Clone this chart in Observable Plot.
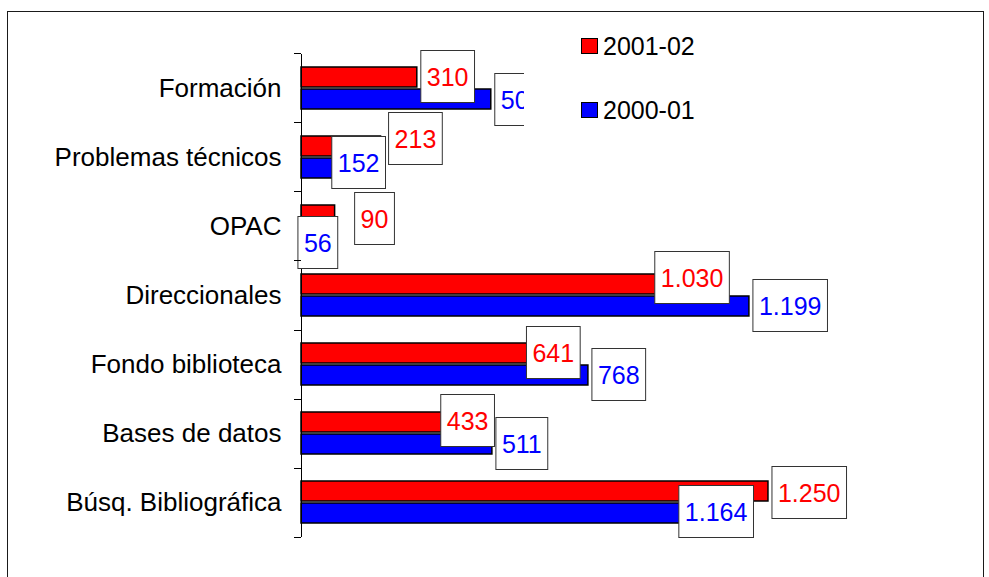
<!DOCTYPE html>
<html><head><meta charset="utf-8">
<script src="https://cdn.jsdelivr.net/npm/d3@7"></script>
<script src="https://cdn.jsdelivr.net/npm/@observablehq/plot@0.6"></script>
<style>
html,body{margin:0;padding:0;background:#fff;}
#wrap{position:relative;width:989px;height:577px;overflow:hidden;font-family:Arial,"Liberation Sans",sans-serif;}
#wrap svg{position:absolute;left:0;top:0;}
#frame{position:absolute;left:7px;top:11px;width:977px;height:640px;border:1px solid #1a1a1a;box-sizing:border-box;pointer-events:none;}
#legend{position:absolute;left:524px;top:24px;width:190px;height:112px;background:#fff;}
.item{position:absolute;left:57px;height:30px;display:flex;align-items:center;font-size:25px;color:#000;white-space:nowrap;}
.sw{width:15px;height:14px;border:1.5px solid #000;margin-right:5px;}
svg g[aria-label^="fy-axis"] text{font-size:26px;}
</style></head>
<body>
<div id="wrap">
  <div id="legend"></div>
  <div id="frame"></div>
</div>
<script>
const categories = ["Formación","Problemas técnicos","OPAC","Direccionales","Fondo biblioteca","Bases de datos","Búsq. Bibliográfica"];
const seriesNames = ["2001-02","2000-01"];
const values2001_02 = [310,213,90,1030,641,433,1250];
const values2000_01 = [508,152,56,1199,768,511,1164];
const seriesColors = ["#ff0000","#0000ff"];
// manual nudges (px) of the boxed data labels, as dragged in the original
const labelShiftX_2001_02 = [0, 4, 16, -35, -18, -26, 0];
const labelShiftY_2001_02 = [0, -7, 4, -6, 0, -1, 2];
const labelShiftX_2000_01 = [0, -30, -28, 0, 0, 0, -61];
const labelShiftY_2000_01 = [1, -5, 6, 0, 0, 0, -1];

const FONT = 'Arial, "Liberation Sans", sans-serif';
const esLocale = d3.formatLocale({decimal: ",", thousands: ".", grouping: [3], currency: ["", "€"]});
const fmt = esLocale.format(",d");

const rows = [];
categories.forEach((c, i) => {
  rows.push({category: c, series: seriesNames[0], value: values2001_02[i], sx: labelShiftX_2001_02[i], sy: labelShiftY_2001_02[i]});
  rows.push({category: c, series: seriesNames[1], value: values2000_01[i], sx: labelShiftX_2000_01[i], sy: labelShiftY_2000_01[i]});
});

const plot = Plot.plot({
  width: 989,
  height: 577,
  marginLeft: 301,
  marginRight: 165,
  marginTop: 53,
  marginBottom: 40,
  style: {background: "transparent", fontFamily: FONT, fontSize: "26px", overflow: "visible"},
  x: {domain: [0, 1400], axis: null},
  y: {domain: seriesNames, axis: null, paddingInner: 0.087, paddingOuter: 0.55},
  fy: {domain: categories, axis: "left", label: null, tickSize: 0, tickPadding: 20, padding: 0},
  color: {domain: seriesNames, range: seriesColors},
  marks: [
    Plot.barX(rows, {fy: "category", y: "series", x: "value", fill: "series", stroke: "#000", strokeWidth: 1.5}),
    Plot.ruleX([0], {stroke: "#000", strokeWidth: 1}),
    ...rows.map(r => Plot.text([r], {
      fy: "category", y: "series", x: "value",
      text: d => fmt(d.value), fill: "series",
      textAnchor: "start", dx: 9.5 + r.sx, dy: r.sy,
      fontSize: 25, fontFamily: FONT
    }))
  ]
});

const wrap = document.getElementById("wrap");
wrap.prepend(plot);

// white boxes behind the data labels
d3.select(plot).selectAll('g[aria-label="text"] text').each(function() {
  const bb = this.getBBox();
  const cy = bb.y + bb.height / 2;
  const r = document.createElementNS("http://www.w3.org/2000/svg", "rect");
  r.setAttribute("x", bb.x - 6);
  r.setAttribute("y", cy - 26);
  r.setAttribute("width", bb.width + 12);
  r.setAttribute("height", 52);
  r.setAttribute("fill", "#fff");
  r.setAttribute("stroke", "#333");
  r.setAttribute("stroke-width", 1);
  const t = this.getAttribute("transform");
  if (t) r.setAttribute("transform", t);
  this.parentNode.insertBefore(r, this);
});

// category-boundary ticks on the vertical axis
const fyS = plot.scale("fy");
const xS = plot.scale("x");
const r0 = fyS && fyS.range ? fyS.range[0] : 53;
const r1 = fyS && fyS.range ? fyS.range[1] : 537;
const x0 = xS && xS.range ? xS.range[0] : 301;
const tg = d3.select(plot).append("g").attr("stroke", "#000").attr("stroke-width", 1);
for (let i = 0; i <= categories.length; i++) {
  const yy = Math.round(r0 + (r1 - r0) * i / categories.length) + 0.5;
  tg.append("line").attr("x1", x0 - 7).attr("x2", x0).attr("y1", yy).attr("y2", yy);
}

// legend
const legend = d3.select("#legend");
seriesNames.forEach((s, i) => {
  const it = legend.append("div").attr("class", "item").style("top", (7 + i * 64) + "px");
  it.append("div").attr("class", "sw").style("background", seriesColors[i]);
  it.append("span").text(s);
});
</script>
</body></html>
